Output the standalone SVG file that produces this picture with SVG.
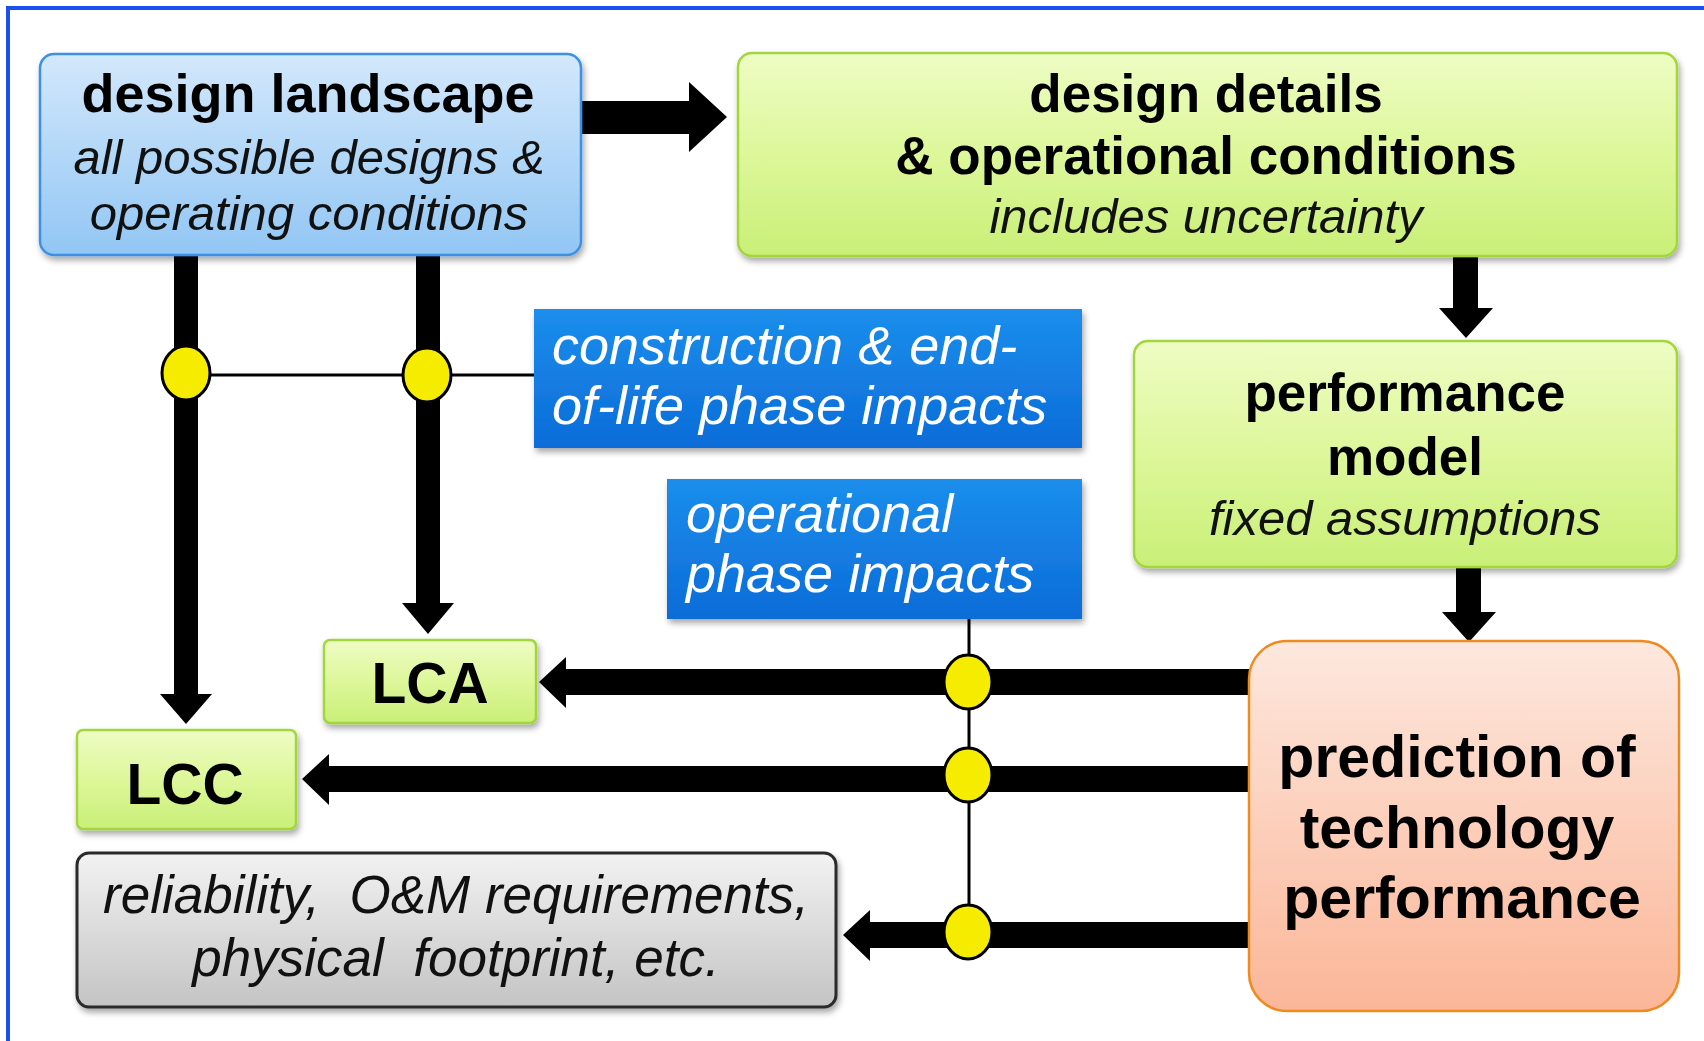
<svg xmlns="http://www.w3.org/2000/svg" width="1704" height="1041" viewBox="0 0 1704 1041">
<defs>
<linearGradient id="gBlueL" x1="0" y1="0" x2="0" y2="1"><stop offset="0" stop-color="#d3e8fb"/><stop offset="1" stop-color="#92c6f4"/></linearGradient>
<linearGradient id="gGreen" x1="0" y1="0" x2="0" y2="1"><stop offset="0" stop-color="#eefcc4"/><stop offset="0.5" stop-color="#ddf79a"/><stop offset="1" stop-color="#c9ef78"/></linearGradient>
<linearGradient id="gBlue" x1="0" y1="0" x2="0" y2="1"><stop offset="0" stop-color="#1b8eec"/><stop offset="1" stop-color="#0c6cd8"/></linearGradient>
<linearGradient id="gPeach" x1="0" y1="0" x2="0" y2="1"><stop offset="0" stop-color="#fde8de"/><stop offset="1" stop-color="#fbb698"/></linearGradient>
<linearGradient id="gGray" x1="0" y1="0" x2="0" y2="1"><stop offset="0" stop-color="#f2f2f2"/><stop offset="1" stop-color="#c4c4c4"/></linearGradient>
<filter id="sh" x="-5%" y="-5%" width="112%" height="120%"><feDropShadow dx="2" dy="4" stdDeviation="3" flood-color="#000" flood-opacity="0.35"/></filter>
</defs>
<style>
.b{font-family:"Liberation Sans",Arial,sans-serif;font-weight:bold;fill:#000;text-anchor:middle}
.i{font-family:"Liberation Sans",Arial,sans-serif;font-style:italic;fill:#111;text-anchor:middle}
.w{font-family:"Liberation Sans",Arial,sans-serif;font-style:italic;fill:#fff}
.green{fill:url(#gGreen);stroke:#a2d63c;stroke-width:2.5;filter:url(#sh)}
.blue{fill:url(#gBlue);filter:url(#sh)}
.thick{fill:#000}
.thin{stroke:#000;stroke-width:3;fill:none}
.dot{fill:#f6ec00;stroke:#000;stroke-width:3}
</style>
<rect x="8" y="8" width="1740" height="1080" fill="none" stroke="#1a4ff0" stroke-width="4"/>

<g id="connectors">
  <polygon class="thick" points="581,101 689,101 689,82 727,117 689,152 689,134 581,134"/>
  <polygon class="thick" points="1453,256 1478,256 1478,308 1493,308 1466,338 1439,308 1453,308"/>
  <polygon class="thick" points="1456,567 1481,567 1481,612 1496,612 1469,642 1442,612 1456,612"/>
  <polygon class="thick" points="174,255 198,255 198,694 212,694 186,724 160,694 174,694"/>
  <polygon class="thick" points="416,255 440,255 440,603 454,603 428,634 402,603 416,603"/>
  <polygon class="thick" points="1250,669 566,669 566,657 539,682 566,708 566,695 1250,695"/>
  <polygon class="thick" points="1250,766 329,766 329,754 302,779 329,805 329,792 1250,792"/>
  <polygon class="thick" points="1250,922 870,922 870,910 843,935 870,961 870,948 1250,948"/>
  <line class="thin" x1="186" y1="375" x2="534" y2="375"/>
  <line class="thin" x1="969" y1="619" x2="969" y2="933"/>
  <ellipse class="dot" cx="186" cy="373" rx="24" ry="27"/>
  <ellipse class="dot" cx="427" cy="375" rx="24" ry="27"/>
  <ellipse class="dot" cx="968" cy="682" rx="24" ry="27"/>
  <ellipse class="dot" cx="968" cy="775" rx="24" ry="27"/>
  <ellipse class="dot" cx="968" cy="932" rx="24" ry="27"/>
</g>

<g id="design-landscape">
  <rect x="40" y="54" width="541" height="201" rx="14" fill="url(#gBlueL)" stroke="#3d90e4" stroke-width="2.5" filter="url(#sh)"/>
  <text class="b" x="308" y="112" font-size="54">design landscape</text>
  <text class="i" x="309" y="174" font-size="49">all possible designs &amp;</text>
  <text class="i" x="309" y="230" font-size="49">operating conditions</text>
</g>

<g id="design-details">
  <rect x="738" y="53" width="939" height="203" rx="14" class="green"/>
  <text class="b" x="1206" y="112" font-size="53">design details</text>
  <text class="b" x="1206" y="174" font-size="53">&amp; operational conditions</text>
  <text class="i" x="1206" y="233" font-size="49">includes uncertainty</text>
</g>

<g id="performance-model">
  <rect x="1134" y="341" width="543" height="226" rx="14" class="green"/>
  <text class="b" x="1405" y="411" font-size="53">performance</text>
  <text class="b" x="1405" y="475" font-size="53">model</text>
  <text class="i" x="1405" y="535" font-size="49">fixed assumptions</text>
</g>

<g id="prediction">
  <rect x="1249" y="641" width="430" height="370" rx="38" fill="url(#gPeach)" stroke="#ef8a1e" stroke-width="2.5"/>
  <text class="b" x="1457" y="777" font-size="59">prediction of</text>
  <text class="b" x="1457" y="848" font-size="59">technology</text>
  <text class="b" x="1462" y="918" font-size="59">performance</text>
</g>

<g id="construction-impacts">
  <rect x="534" y="309" width="548" height="139" class="blue"/>
  <text class="w" x="552" y="364" font-size="54">construction &amp; end-</text>
  <text class="w" x="552" y="424" font-size="54">of-life phase impacts</text>
</g>

<g id="operational-impacts">
  <rect x="667" y="479" width="415" height="140" class="blue"/>
  <text class="w" x="686" y="532" font-size="54">operational</text>
  <text class="w" x="686" y="592" font-size="54">phase impacts</text>
</g>

<g id="LCA">
  <rect x="324" y="640" width="212" height="83" rx="6" class="green"/>
  <text class="b" x="430" y="703" font-size="57">LCA</text>
</g>

<g id="LCC">
  <rect x="77" y="730" width="219" height="99" rx="6" class="green"/>
  <text class="b" x="185" y="804" font-size="57">LCC</text>
</g>

<g id="reliability">
  <rect x="77" y="853" width="759" height="154" rx="12" fill="url(#gGray)" stroke="#2a2a2a" stroke-width="3" filter="url(#sh)"/>
  <text class="i" x="456" y="913" font-size="53" xml:space="preserve" style="white-space:pre">reliability,  O&amp;M requirements,</text>
  <text class="i" x="456" y="976" font-size="53" xml:space="preserve" style="white-space:pre">physical  footprint, etc.</text>
</g>
</svg>
